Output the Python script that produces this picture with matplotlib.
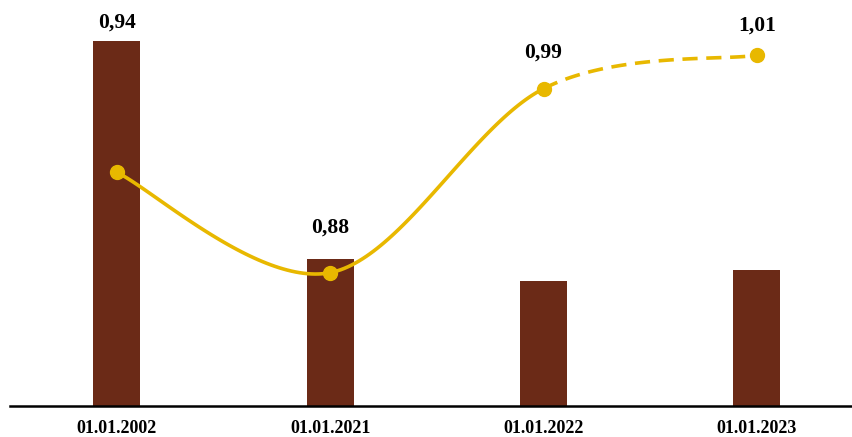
import numpy as np
import matplotlib
matplotlib.use("Agg")
import matplotlib.pyplot as plt

plt.rcParams["font.family"] = ["Liberation Serif", "DejaVu Serif"]

# data
dates = ["01.01.2002", "01.01.2021", "01.01.2022", "01.01.2023"]
bar_values = [36.5, 14.7, 12.5, 13.6]      # no scale shown
line_values = [0.94, 0.88, 0.99, 1.01]
labels = ["0,94", "0,88", "0,99", "1,01"]

bar_color = "#6B2A17"
line_color = "#E8B800"

fig = plt.figure(figsize=(8.53, 4.37), dpi=100)
ax = fig.add_axes([10 / 853, 31 / 437, 843 / 853, 406 / 437])
ax2 = ax.twinx()

x = np.arange(len(dates))
ax.bar(x, bar_values, width=0.22, color=bar_color, zorder=1)
ax.set_xlim(-0.5, 3.45)
ax.set_ylim(0, 40.6)

# smooth line (catmull-rom through the points)
def smooth(xs, ys, a, b, n=60):
    p = np.column_stack([xs, ys])
    p = np.vstack([p[0], p, p[-1]])
    out = []
    for i in range(a, b):
        p0, p1, p2, p3 = p[i], p[i + 1], p[i + 2], p[i + 3]
        t = np.linspace(0, 1, n)[:, None]
        c = 0.5 * ((2 * p1) + (-p0 + p2) * t + (2 * p0 - 5 * p1 + 4 * p2 - p3) * t ** 2
                   + (-p0 + 3 * p1 - 3 * p2 + p3) * t ** 3)
        out.append(c)
    return np.vstack(out)

solid = smooth(x, line_values, 0, 2)
dashed = smooth(x, line_values, 2, 3)
ax2.plot(solid[:, 0], solid[:, 1], color=line_color, lw=2.6, solid_capstyle="round", zorder=3)
ax2.plot(dashed[:, 0], dashed[:, 1], color=line_color, lw=2.6, dashes=(4.2, 2.4), zorder=3)
ax2.plot(x, line_values, "o", color=line_color, markersize=10, zorder=4)
ax2.set_ylim(0.8003, 1.043)

# value labels: first two sit above the bars, last two above the dots
offsets = [6, 15.5, 19, 14]
for i, lab in enumerate(labels):
    if i < 2:
        ax.annotate(lab, (x[i], bar_values[i]), xytext=(0, offsets[i]), textcoords="offset points",
                    ha="center", va="bottom", fontsize=15.5, fontweight="bold")
    else:
        ax2.annotate(lab, (x[i], line_values[i]), xytext=(0, offsets[i]), textcoords="offset points",
                     ha="center", va="bottom", fontsize=15.5, fontweight="bold")

ax.set_xticks(x)
ax.set_xticklabels(dates, fontsize=13, fontweight="bold")
ax.tick_params(axis="x", length=0, pad=10)
ax.set_yticks([])
ax2.set_yticks([])
for a in (ax, ax2):
    for s in ["top", "left", "right"]:
        a.spines[s].set_visible(False)
ax2.spines["bottom"].set_visible(False)
ax.spines["bottom"].set_linewidth(1.8)
ax.spines["bottom"].set_zorder(5)

fig.savefig("out.png", dpi=100)
